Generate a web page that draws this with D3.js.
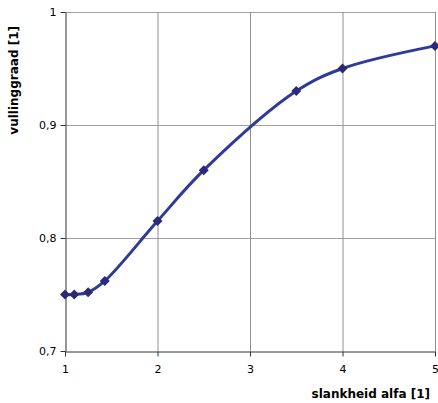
<!DOCTYPE html>
<html><head><meta charset="utf-8">
<script src="https://cdn.jsdelivr.net/npm/d3@7"></script>
<style>body{margin:0;background:#fff}svg{display:block}</style>
</head><body>
<script>
const alfa = [1, 1.1, 1.25, 1.43, 2, 2.5, 3.5, 4, 5];
const vullinggraad = [0.750, 0.750, 0.752, 0.762, 0.815, 0.860, 0.930, 0.950, 0.970];
const xTicks = [1, 2, 3, 4, 5];
const yTicks = [0.7, 0.8, 0.9, 1];
const xTitle = "slankheid alfa [1]";
const yTitle = "vullinggraad [1]";

const W = 438, H = 403;
const svg = d3.select("body").append("svg").attr("width", W).attr("height", H);
const x = d3.scaleLinear().domain([1, 5]).range([65, 435]);
const y = d3.scaleLinear().domain([0.7, 1]).range([351, 12]);
const font = "DejaVu Sans, Verdana, sans-serif";

// grid
svg.append("g").selectAll("line").data(yTicks.slice(1)).join("line")
  .attr("x1", 65).attr("x2", 435).attr("y1", d => y(d) + 0.5).attr("y2", d => y(d) + 0.5)
  .attr("stroke", "#a0a0a0").attr("stroke-width", 1);
svg.append("g").selectAll("line").data(xTicks.slice(1)).join("line")
  .attr("x1", d => x(d) + 0.5).attr("x2", d => x(d) + 0.5).attr("y1", 12).attr("y2", 351)
  .attr("stroke", "#909090").attr("stroke-width", 1);

// axes
const xAxis = svg.append("g").attr("transform", "translate(0,351.5)")
  .call(d3.axisBottom(x).tickValues(xTicks).tickFormat(d3.format("d")).tickSize(5).tickSizeOuter(0));
const yAxis = svg.append("g").attr("transform", "translate(65.5,0)")
  .call(d3.axisLeft(y).tickValues(yTicks).tickFormat(d => d === 1 ? "1" : String(d).replace(".", ",")).tickSize(5).tickSizeOuter(0));
[xAxis, yAxis].forEach(a => {
  a.select(".domain").attr("stroke", "#333");
  a.selectAll(".tick line").attr("stroke", "#333");
  a.selectAll("text").attr("font-family", font).attr("font-size", 11).attr("fill", "#000");
});
xAxis.selectAll("text").attr("dy", "0.71em").attr("y", 14);
yAxis.selectAll("text").attr("x", -9);

// titles
svg.append("text").attr("x", 430).attr("y", 398).attr("text-anchor", "end")
  .attr("font-family", font).attr("font-weight", "bold").attr("font-size", 12).text(xTitle);
svg.append("text").attr("transform", "translate(18,26) rotate(-90)").attr("text-anchor", "end")
  .attr("font-family", font).attr("font-weight", "bold").attr("font-size", 12).text(yTitle);

// line
const pts = alfa.map((a, i) => [a, vullinggraad[i]]);
svg.append("path").datum(pts)
  .attr("d", d3.line().x(d => x(d[0])).y(d => y(d[1])).curve(d3.curveCatmullRom.alpha(0.5)))
  .attr("fill", "none").attr("stroke", "#2d3a9a").attr("stroke-width", 3);
svg.append("g").selectAll("path").data(pts).join("path")
  .attr("transform", d => `translate(${x(d[0])},${y(d[1])}) rotate(45)`)
  .attr("d", d3.symbol(d3.symbolSquare, 50))
  .attr("fill", "#2a2a78");
</script>
</body></html>
